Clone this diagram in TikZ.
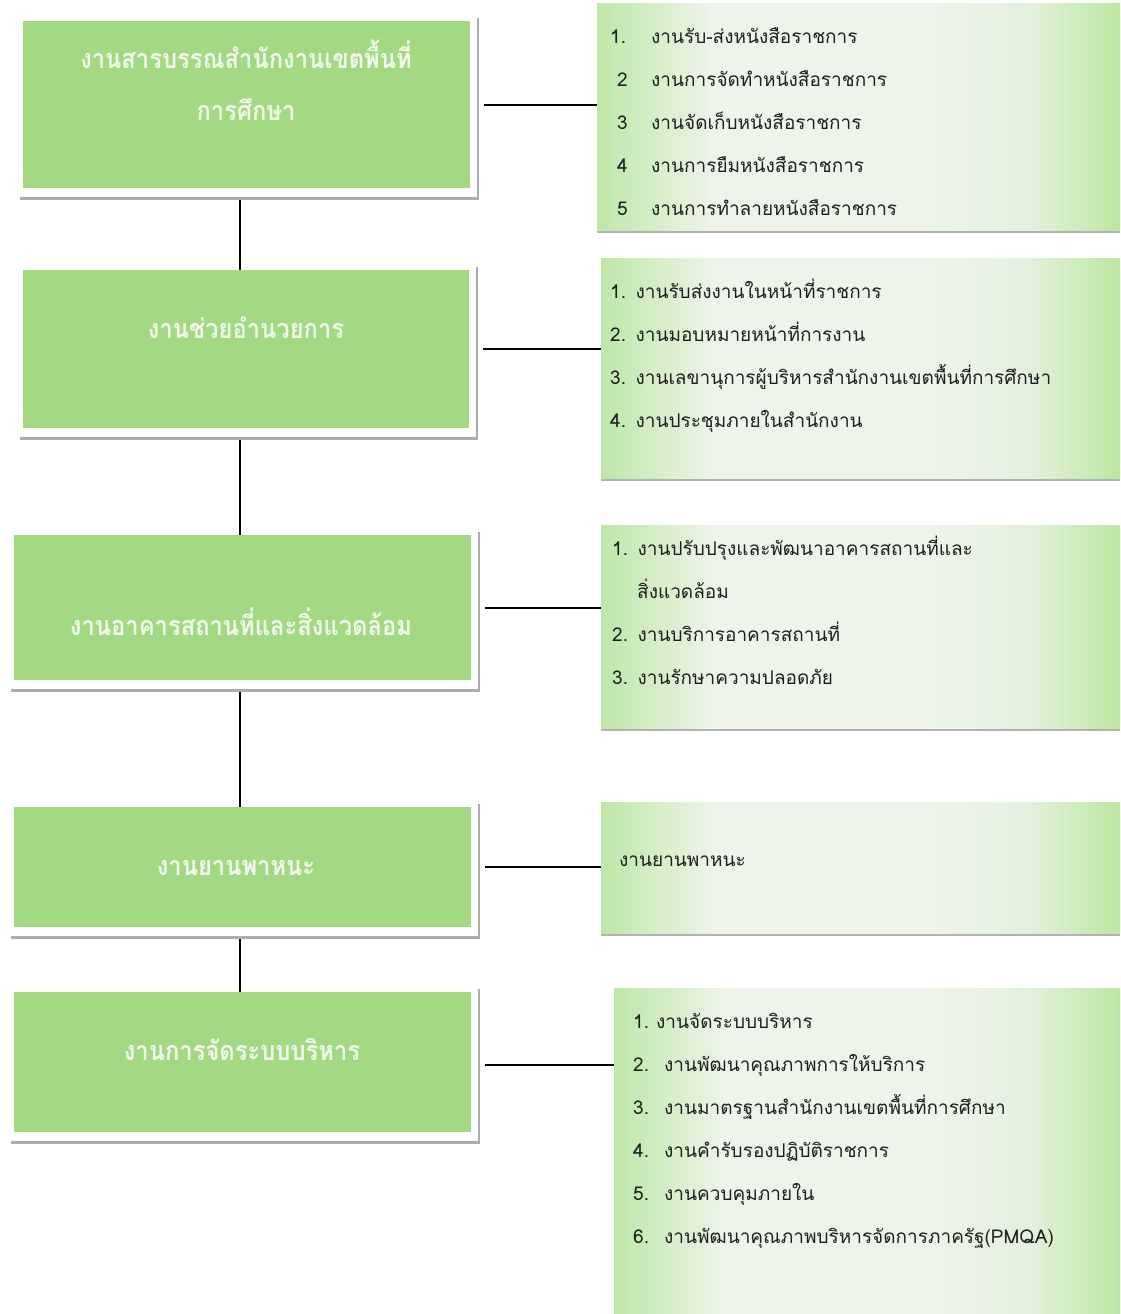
\documentclass[tikz,border=0pt]{standalone}
\usepackage{fontspec}
\newfontfamily\thaifont[Script=Thai]{Loma}
\newfontfamily\thaicond[Script=Thai,FakeStretch=0.88]{Loma Bold}
\usetikzlibrary{calc,backgrounds}
\definecolor{lgreen}{RGB}{163,217,130}
\definecolor{rgL}{RGB}{190,231,168}
\definecolor{rgM}{RGB}{238,244,234}
\definecolor{rgN}{RGB}{228,241,222}
\definecolor{rgR}{RGB}{188,231,160}
\definecolor{shadowgray}{RGB}{172,172,172}
\definecolor{ltxt}{RGB}{242,249,236}
\pgfdeclarehorizontalshading{rshade}{100bp}{color(0bp)=(rgL); color(25bp)=(rgL); color(36bp)=(rgM); color(56bp)=(rgM); color(66bp)=(rgN); color(75bp)=(rgR); color(100bp)=(rgR)}
\tikzset{
  lbox/.style={fill=lgreen, anchor=north west, inner sep=0pt},
  rbox/.style={anchor=north west, inner sep=0pt, shading=rshade},
  rlist/.style={anchor=base west, align=left, text width=500pt, inner sep=0pt, text=black!88,
                font=\thaifont\fontsize{19}{43}\selectfont},
  ltext/.style={anchor=base, align=center, text width=440pt, inner sep=0pt, text=ltxt,
                font=\thaicond\fontsize{27}{52}\selectfont},
  conn/.style={draw=black, line width=1.7pt},
}
\newcommand{\lframe}[1]{%
  \fill[shadowgray] ($(#1.north west)+(-3,-3)$) rectangle ($(#1.south east)+(9,12)$);
  \fill[white] ($(#1.north west)+(-3,-3)$) rectangle ($(#1.south east)+(7,9)$);}
\newcommand{\rshadow}[1]{%
  \fill[black!30] ($(#1.north west)+(0,3)$) rectangle ($(#1.south east)+(0,3)$);}
\begin{document}
\begin{tikzpicture}[x=1pt,y=-1pt]
\useasboundingbox (0,0) rectangle (1120,1314);
% left boxes
\node[lbox,minimum width=447,minimum height=167] (l1) at (23,21) {};
\node[lbox,minimum width=446,minimum height=158] (l2) at (23,270) {};
\node[lbox,minimum width=457,minimum height=145] (l3) at (14,535) {};
\node[lbox,minimum width=457,minimum height=120] (l4) at (14,807) {};
\node[lbox,minimum width=457,minimum height=140] (l5) at (14,992) {};
% right boxes
\node[rbox,minimum width=523,minimum height=227] (r1) at (597,3) {};
\node[rbox,minimum width=519,minimum height=220] (r2) at (601,258) {};
\node[rbox,minimum width=519,minimum height=203] (r3) at (601,525) {};
\node[rbox,minimum width=519,minimum height=131] (r4) at (601,802) {};
\node[rbox,minimum width=506,minimum height=330] (r5) at (614,988) {};
\begin{scope}[on background layer]
  \lframe{l1}\lframe{l2}\lframe{l3}\lframe{l4}\lframe{l5}
  \rshadow{r1}\rshadow{r2}\rshadow{r3}\rshadow{r4}
\end{scope}
% left texts
\node[ltext] (t1) at (246,68) {งานสารบรรณสำนักงานเขตพื้นที่\\การศึกษา};
\node[ltext] (t2) at (246,338) {งานช่วยอำนวยการ};
\node[ltext] (t3) at (241,635) {งานอาคารสถานที่และสิ่งแวดล้อม};
\node[ltext] (t4) at (236,875) {งานยานพาหนะ};
\node[ltext] (t5) at (242,1060) {งานการจัดระบบบริหาร};
% right lists
\node[rlist] (m1) at (610,44) {\makebox[41pt][l]{1.}งานรับ-ส่งหนังสือราชการ\\
\hspace*{7pt}\makebox[34pt][l]{2}งานการจัดทำหนังสือราชการ\\
\hspace*{7pt}\makebox[34pt][l]{3}งานจัดเก็บหนังสือราชการ\\
\hspace*{7pt}\makebox[34pt][l]{4}งานการยืมหนังสือราชการ\\
\hspace*{7pt}\makebox[34pt][l]{5}งานการทำลายหนังสือราชการ};
\node[rlist] (m2) at (610,298) {1. งานรับส่งงานในหน้าที่ราชการ\\
2. งานมอบหมายหน้าที่การงาน\\
3. งานเลขานุการผู้บริหารสำนักงานเขตพื้นที่การศึกษา\\
4. งานประชุมภายในสำนักงาน};
\node[rlist] (m3) at (612,555) {1. งานปรับปรุงและพัฒนาอาคารสถานที่และ\\
\hspace*{25pt}สิ่งแวดล้อม\\
2. งานบริการอาคารสถานที่\\
3. งานรักษาความปลอดภัย};
\node[rlist] (m4) at (619,866) {งานยานพาหนะ};
\node[rlist] (m5) at (633,1028) {\makebox[23pt][l]{1.}งานจัดระบบบริหาร\\
\makebox[31pt][l]{2.}งานพัฒนาคุณภาพการให้บริการ\\
\makebox[31pt][l]{3.}งานมาตรฐานสำนักงานเขตพื้นที่การศึกษา\\
\makebox[31pt][l]{4.}งานคำรับรองปฏิบัติราชการ\\
\makebox[31pt][l]{5.}งานควบคุมภายใน\\
\makebox[31pt][l]{6.}งานพัฒนาคุณภาพบริหารจัดการภาครัฐ(PMQA)};
% connectors
\coordinate (vx) at (240,0);
\coordinate (l5c) at ($(l5.east)+(14,3)$);
\draw[conn,shorten <=12pt] (l1.south -| vx) -- (l2.north -| vx);
\draw[conn,shorten <=12pt] (l2.south -| vx) -- (l3.north -| vx);
\draw[conn,shorten <=12pt] (l3.south -| vx) -- (l4.north -| vx);
\draw[conn,shorten <=12pt] (l4.south -| vx) -- (l5.north -| vx);
\draw[conn,shorten <=14pt] (l1.east) -- (l1.east -| r1.west);
\draw[conn,shorten <=14pt] (l2.east) -- (l2.east -| r2.west);
\draw[conn,shorten <=14pt] (l3.east) -- (l3.east -| r3.west);
\draw[conn,shorten <=14pt] (l4.east) -- (l4.east -| r4.west);
\draw[conn] (l5c) -- (l5c -| r5.west);
\end{tikzpicture}
\end{document}
